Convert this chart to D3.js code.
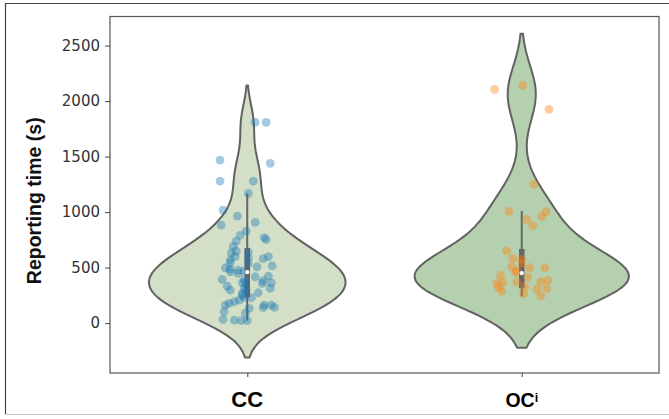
<!DOCTYPE html>
<html>
<head>
<meta charset="utf-8">
<script src="https://cdn.jsdelivr.net/npm/d3@7"></script>
<style>
  body { margin: 0; background: #fff; }
  svg { display: block; }
</style>
</head>
<body>
<svg id="chart" width="669" height="419"></svg>
<script>
// Reporting times (seconds) per condition, with the horizontal strip-plot jitter (category units)
const categories = ["CC", "OC"];

const ccValues = [1808, 1808, 1468, 1439, 1279, 1279, 1168, 1018, 964, 883, 907, 829, 790, 769, 752, 739,
  690, 649, 633, 640, 598, 598, 580, 568, 588, 537, 516, 507, 498, 486, 477, 468, 462, 447, 417, 423,
  393, 387, 381, 363, 363, 357, 333, 297, 312, 312, 297, 273, 252, 228, 231, 207, 192, 177, 162, 162,
  162, 141, 141, 132, 102, 87, 33, 27, 21, 21, 543, 357, 267];
const ccJitter = [0.029, 0.069, -0.099, 0.084, -0.099, 0.022, 0.004, -0.088, -0.036, -0.095, 0.029, -0.004,
  -0.026, 0.062, 0.069, -0.040, -0.051, -0.040, -0.058, 0.004, -0.044, 0.077, 0.058, -0.062, 0.004, 0.004,
  0.091, 0.036, -0.080, -0.062, -0.033, -0.011, -0.062, -0.033, 0.029, 0.077, -0.091, -0.011, 0.058, 0.088,
  -0.018, 0.055, -0.073, -0.062, -0.011, 0.084, -0.004, 0.040, -0.018, 0.015, -0.011, -0.029, -0.047, -0.066,
  -0.080, 0.062, 0.088, 0.058, 0.099, 0.007, -0.084, -0.007, -0.088, -0.047, -0.022, 0.000, -0.062, -0.007, -0.018];

const ocValues = [2105, 2141, 1925, 1250, 1006, 1003, 958, 935, 878, 650, 582, 574, 537, 507, 500, 500,
  455, 430, 414, 366, 368, 357, 370, 384, 320, 286, 327, 306, 309, 264, 245, 470];
const ocJitter = [-0.099, 0.004, 0.099, 0.044, -0.047, 0.088, 0.073, 0.018, 0.040, -0.055, -0.033, 0.000,
  0.000, -0.036, 0.029, 0.084, -0.022, -0.077, 0.022, -0.069, -0.018, -0.091, 0.069, 0.095, -0.084, -0.073,
  0.011, 0.055, 0.091, 0.007, 0.069, -0.018];

// Inner box summary per condition
const whiskerLow = [21, 240];
const quartile1 = [234, 315];
const medians = [459, 450];
const quartile3 = [676, 667];
const whiskerHigh = [1170, 1009];

const yTicks = [0, 500, 1000, 1500, 2000, 2500];

const seriesValues = [ccValues, ocValues];
const seriesJitter = [ccJitter, ocJitter];

// violin styling: bandwidth adjustment on Scott's rule and widest half-width (category units)
const bwAdjust = [0.96, 0.9];
const maxHalfWidth = [0.358, 0.39];
const violinFill = ["#d3e0c7", "#b4d0ae"];
const pointColor = ["#1f77b4", "#ff7f0e"];

const svg = d3.select("#chart");
const W = 669, H = 419;
const plot = { left: 110, right: 659, top: 16.5, bottom: 373 };

// outer figure frame
svg.append("line").attr("x1", 5).attr("x2", W).attr("y1", 3.5).attr("y2", 3.5)
  .attr("stroke", "#444").attr("stroke-width", 1.2);
svg.append("line").attr("x1", 5.5).attr("x2", 5.5).attr("y1", 3).attr("y2", 414)
  .attr("stroke", "#444").attr("stroke-width", 1.2);
svg.append("line").attr("x1", 5).attr("x2", W).attr("y1", 414.5).attr("y2", 414.5)
  .attr("stroke", "#c8c8c8").attr("stroke-width", 1);

const x = d3.scaleLinear().domain([-0.5, 1.5]).range([plot.left, plot.right]);
const y = d3.scaleLinear().domain([-450, 2762]).range([plot.bottom, plot.top]);

// Gaussian KDE with (adjusted) Scott's bandwidth, cut at 2 bandwidths past the data
function kdeProfile(values, adjust) {
  const n = values.length;
  const bw = d3.deviation(values) * Math.pow(n, -0.2) * adjust;
  const lo = d3.min(values) - 2 * bw, hi = d3.max(values) + 2 * bw;
  const grid = d3.range(100).map(k => lo + (hi - lo) * k / 99);
  const norm = n * bw * Math.sqrt(2 * Math.PI);
  const dens = grid.map(t => d3.sum(values, v => Math.exp(-0.5 * ((t - v) / bw) ** 2)) / norm);
  return grid.map((t, k) => ({ t, d: dens[k] }));
}

const profiles = seriesValues.map((vals, i) => kdeProfile(vals, bwAdjust[i]));

const gViolins = svg.append("g");
profiles.forEach((prof, i) => {
  const dmax = d3.max(prof, q => q.d);
  const w = q => q.d / dmax * maxHalfWidth[i];
  const area = d3.area()
    .y(q => y(q.t))
    .x0(q => x(i - w(q)))
    .x1(q => x(i + w(q)));
  gViolins.append("path")
    .attr("d", area(prof) + "Z")
    .attr("fill", violinFill[i])
    .attr("stroke", "#626262")
    .attr("stroke-width", 2)
    .attr("stroke-linejoin", "round");
});

// inner box: whisker line and quartile bar
const gBox = svg.append("g");
categories.forEach((c, i) => {
  gBox.append("line")
    .attr("x1", x(i)).attr("x2", x(i))
    .attr("y1", y(whiskerLow[i])).attr("y2", y(whiskerHigh[i]))
    .attr("stroke", "#666").attr("stroke-width", 2);
  gBox.append("line")
    .attr("x1", x(i)).attr("x2", x(i))
    .attr("y1", y(quartile1[i])).attr("y2", y(quartile3[i]))
    .attr("stroke", "#666").attr("stroke-width", 5.5);
});

// strip plot points
const gPts = svg.append("g");
seriesValues.forEach((vals, i) => {
  gPts.selectAll(null).data(vals).enter().append("circle")
    .attr("cx", (v, k) => x(i + seriesJitter[i][k]))
    .attr("cy", v => y(v))
    .attr("r", 4.4)
    .attr("fill", pointColor[i])
    .attr("fill-opacity", 0.4);
});

// median markers
svg.append("g").selectAll("circle").data(medians).enter().append("circle")
  .attr("cx", (m, i) => x(i)).attr("cy", m => y(m))
  .attr("r", 2.2).attr("fill", "#fff");

// axes frame
svg.append("rect")
  .attr("x", plot.left).attr("y", plot.top)
  .attr("width", plot.right - plot.left).attr("height", plot.bottom - plot.top)
  .attr("fill", "none").attr("stroke", "#555").attr("stroke-width", 1.2);

// y axis
const yAxis = svg.append("g")
  .attr("transform", `translate(${plot.left},0)`)
  .call(d3.axisLeft(y).tickValues(yTicks).tickSize(5).tickPadding(5).tickFormat(d3.format("d")));
yAxis.select(".domain").remove();
yAxis.selectAll("line").attr("stroke", "#555").attr("stroke-width", 1.1);
yAxis.selectAll("text")
  .attr("fill", "#333")
  .style("font-family", "'DejaVu Sans', sans-serif")
  .style("font-size", "15px");

// x axis ticks
const xAxis = svg.append("g")
  .attr("transform", `translate(0,${plot.bottom})`)
  .call(d3.axisBottom(x).tickValues([0, 1]).tickSize(4).tickFormat(""));
xAxis.select(".domain").remove();
xAxis.selectAll("line").attr("stroke", "#555").attr("stroke-width", 1.1);

// category labels
const labelFont = "'Liberation Sans', Arial, sans-serif";
svg.append("text")
  .attr("x", x(0)).attr("y", 406.5)
  .attr("text-anchor", "middle")
  .style("font-family", labelFont).style("font-weight", "bold").style("font-size", "22px")
  .text(categories[0]);
const oc = svg.append("text")
  .attr("x", x(1)).attr("y", 406.5)
  .attr("text-anchor", "middle")
  .style("font-family", labelFont).style("font-weight", "bold").style("font-size", "19.5px");
oc.append("tspan").text(categories[1]);
oc.append("tspan").attr("dy", -5).style("font-size", "12.5px").text("i");

// y axis title
svg.append("text")
  .attr("transform", `translate(40.5,${(plot.top + plot.bottom) / 2 + 6}) rotate(-90)`)
  .attr("text-anchor", "middle")
  .style("font-family", labelFont).style("font-weight", "bold").style("font-size", "19.5px")
  .attr("fill", "#111")
  .text("Reporting time (s)");
</script>
</body>
</html>
